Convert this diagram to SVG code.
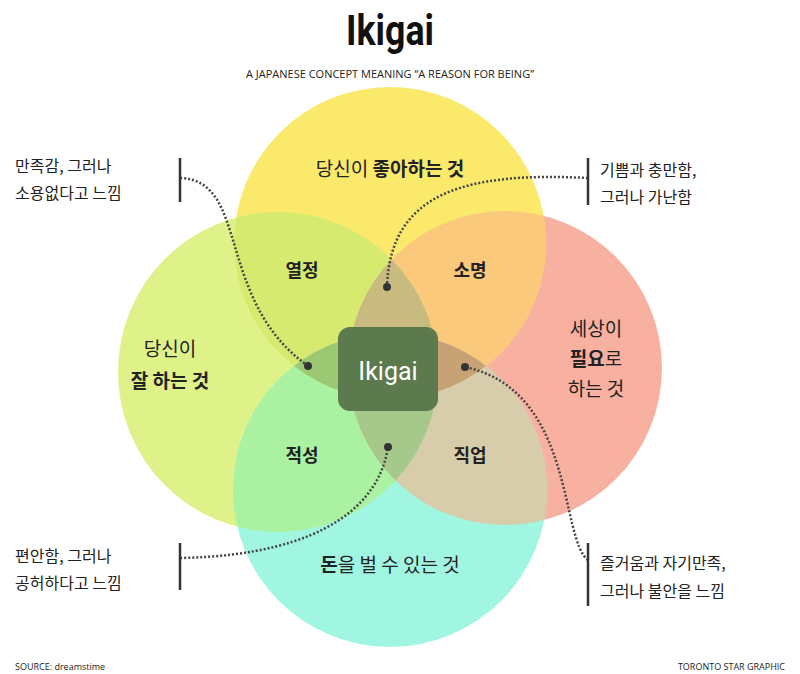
<svg xmlns="http://www.w3.org/2000/svg" width="800" height="674" viewBox="0 0 800 674">
<style>
.k{font-family:"Noto Sans CJK KR","Noto Sans",sans-serif;fill:#222}
.lb{font-size:19px;text-anchor:middle}
.rg{font-size:18px;font-weight:bold;text-anchor:middle}
.co{font-size:16px}
.ln{fill:none;stroke:#444;stroke-width:2.5;stroke-dasharray:2 2}
.bar{stroke:#333;stroke-width:2.5}
</style>
<defs>
<clipPath id="cT"><circle cx="390" cy="243" r="156"/></clipPath>
<clipPath id="cL"><circle cx="278" cy="372" r="160"/></clipPath>
<clipPath id="cR"><circle cx="505" cy="368" r="157"/></clipPath>
<clipPath id="cB"><circle cx="390" cy="490" r="157"/></clipPath>
<clipPath id="cTL" clip-path="url(#cT)"><circle cx="278" cy="372" r="160"/></clipPath>
<clipPath id="cTR" clip-path="url(#cT)"><circle cx="505" cy="368" r="157"/></clipPath>
<clipPath id="cLB" clip-path="url(#cL)"><circle cx="390" cy="490" r="157"/></clipPath>
<clipPath id="cRB" clip-path="url(#cR)"><circle cx="390" cy="490" r="157"/></clipPath>
<clipPath id="cLR" clip-path="url(#cL)"><circle cx="505" cy="368" r="157"/></clipPath>
</defs>
<rect width="800" height="674" fill="#fff"/>
<text x="390" y="45" font-family="Roboto,'Liberation Sans',sans-serif" font-size="42" font-weight="bold" text-anchor="middle" fill="#111" transform="translate(390 0) scale(0.85 1) translate(-390 0)">Ikigai</text>
<text x="390" y="78" font-family="'Open Sans','Liberation Sans',sans-serif" font-size="11" text-anchor="middle" fill="#222">A JAPANESE CONCEPT MEANING “A REASON FOR BEING”</text>
<g id="circles">
<circle cx="278" cy="372" r="160" fill="#dff28a"/>
<circle cx="505" cy="368" r="157" fill="#f8b1a1"/>
<circle cx="390" cy="490" r="157" fill="#a0f6e0"/>
<circle cx="390" cy="243" r="156" fill="#fbe96c"/>
</g>
<g id="overlaps">
<circle cx="278" cy="372" r="160" fill="#d6ea70" clip-path="url(#cT)"/>
<circle cx="505" cy="368" r="157" fill="#fbc97c" clip-path="url(#cT)"/>
<circle cx="390" cy="490" r="157" fill="#aaf2a2" clip-path="url(#cL)"/>
<circle cx="390" cy="490" r="157" fill="#d8cdab" clip-path="url(#cR)"/>
<circle cx="505" cy="368" r="157" fill="#c9bb80" clip-path="url(#cTL)"/>
<circle cx="390" cy="490" r="157" fill="#9cc873" clip-path="url(#cTL)"/>
<circle cx="390" cy="490" r="157" fill="#c7a274" clip-path="url(#cTR)"/>
<circle cx="390" cy="490" r="157" fill="#a6c98b" clip-path="url(#cLR)"/>
</g>
<g id="center"><rect x="338" y="327" width="100" height="84" rx="12" fill="#5d7a4f"/>
<text x="388" y="380" font-family="Roboto,'Liberation Sans',sans-serif" font-size="25" text-anchor="middle" fill="#fff">Ikigai</text></g>
<g id="labels" class="k">
<text class="k lb" x="390" y="176">당신이 <tspan font-weight="bold">좋아하는 것</tspan></text>
<text class="k lb" x="170" y="356">당신이</text>
<text class="k lb" x="170" y="388" font-weight="bold">잘 하는 것</text>
<text class="k lb" x="596" y="336">세상이</text>
<text class="k lb" x="596" y="366"><tspan font-weight="bold">필요</tspan>로</text>
<text class="k lb" x="596" y="396">하는 것</text>
<text class="k lb" x="390" y="572"><tspan font-weight="bold">돈</tspan>을 벌 수 있는 것</text>
<text class="k rg" x="302" y="277">열정</text>
<text class="k rg" x="470" y="277">소명</text>
<text class="k rg" x="302" y="462">적성</text>
<text class="k rg" x="470" y="462">직업</text>
</g>
<g id="connectors">
<path class="ln" d="M180 178 C250 180 215 300 308 366"/>
<path class="ln" d="M588 178 C470 172 390 190 387 287"/>
<path class="ln" d="M180 558 C330 555 380 500 388 447"/>
<path class="ln" d="M588 560 C560 540 575 390 465 367"/>
<circle cx="308" cy="366" r="4" fill="#333"/>
<circle cx="387" cy="287" r="4" fill="#333"/>
<circle cx="388" cy="447" r="4" fill="#333"/>
<circle cx="465" cy="367" r="4" fill="#333"/>
<line class="bar" x1="180" y1="158" x2="180" y2="202"/>
<line class="bar" x1="588" y1="158" x2="588" y2="205"/>
<line class="bar" x1="180" y1="543" x2="180" y2="590"/>
<line class="bar" x1="588" y1="543" x2="588" y2="606"/>
</g>
<g id="callouts">
<text class="k co" x="15" y="172">만족감, 그러나</text>
<text class="k co" x="15" y="199">소용없다고 느낌</text>
<text class="k co" x="600" y="176">기쁨과 충만함,</text>
<text class="k co" x="600" y="203">그러나 가난함</text>
<text class="k co" x="15" y="562">편안함, 그러나</text>
<text class="k co" x="15" y="589">공허하다고 느낌</text>
<text class="k co" x="600" y="569">즐거움과 자기만족,</text>
<text class="k co" x="600" y="597">그러나 불안을 느낌</text>
</g>
<text x="15" y="670" font-family="'Open Sans','Liberation Sans',sans-serif" font-size="9" fill="#222">SOURCE: dreamstime</text>
<text x="785" y="670" font-family="'Open Sans','Liberation Sans',sans-serif" font-size="9" text-anchor="end" fill="#222">TORONTO STAR GRAPHIC</text>
</svg>
